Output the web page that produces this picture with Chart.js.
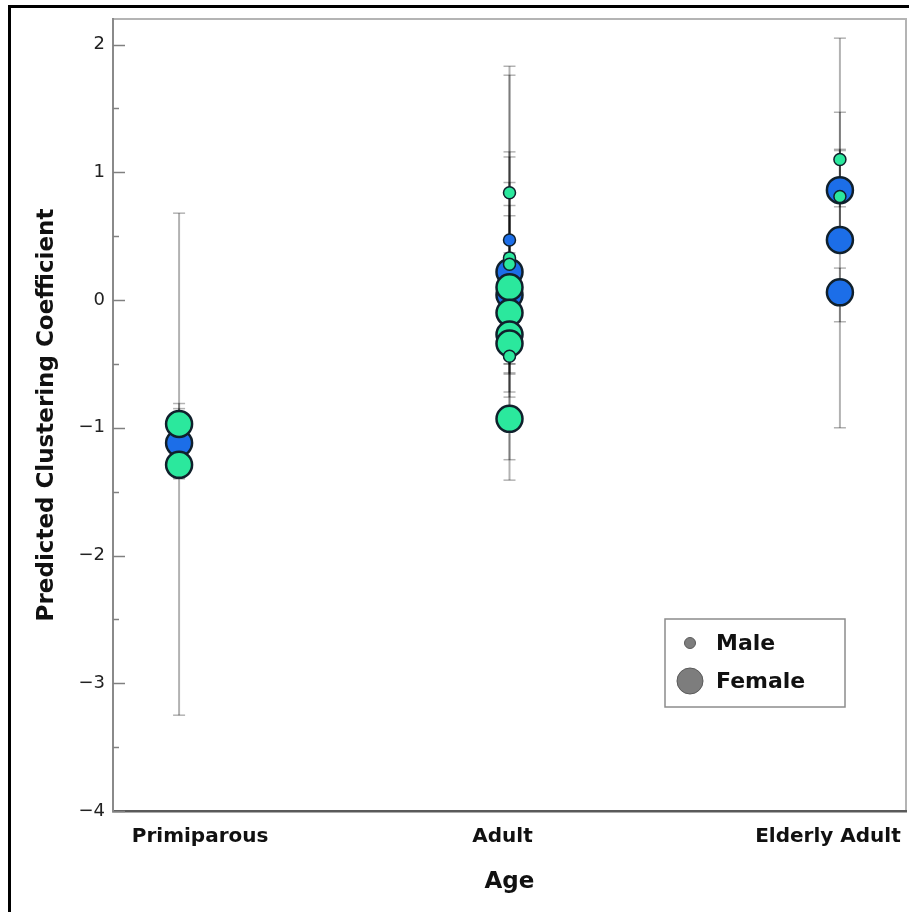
<!DOCTYPE html>
<html>
<head>
<meta charset="utf-8">
<script src="https://cdn.jsdelivr.net/npm/chart.js@4.4.1/dist/chart.umd.min.js"></script>
<style>
  html, body { margin: 0; padding: 0; background: #ffffff; }
  #wrap { position: relative; width: 909px; height: 912px; }
</style>
</head>
<body>
<div id="wrap"><canvas id="chart"></canvas></div>
<script>
// Age groups along the x axis
const ageCategories = ['Primiparous', 'Adult', 'Elderly Adult'];
const yTickLabels = ['\u22124', '\u22123', '\u22122', '\u22121', '0', '1', '2'];

// Predicted clustering coefficient per individual (age index, value)
const blueFemaleAge = [0, 1, 1, 2, 2, 2];
const blueFemaleValue = [-1.12, 0.22, 0.04, 0.86, 0.47, 0.06];
const blueMaleAge = [1];
const blueMaleValue = [0.47];
const greenFemaleAge = [0, 0, 1, 1, 1, 1, 1];
const greenFemaleValue = [-0.97, -1.29, 0.10, -0.10, -0.27, -0.34, -0.93];
const greenMaleAge = [1, 1, 1, 1, 2, 2];
const greenMaleValue = [0.84, 0.33, 0.28, -0.44, 1.10, 0.81];

// Interval bounds around each prediction
const intervalAge = [0, 0, 0,
  1, 1, 1, 1, 1, 1, 1, 1, 1, 1, 1, 1,
  2, 2, 2, 2, 2];
const intervalLow = [-3.25, -1.40, -1.10,
  -0.15, -0.76, -0.50, -0.57, -0.28, -0.58, -0.72, -0.35, -0.45, -0.50, -1.25, -1.41,
  0.73, 0.54, -1.00, 0.45, -0.17];
const intervalHigh = [0.68, -0.81, -0.85,
  1.83, 1.76, 1.16, 1.12, 0.74, 0.66, 0.92, 0.15, -0.09, -0.18, 0.37, -0.45,
  1.47, 1.18, 2.05, 1.17, 0.25];

const legendLabels = ['Male', 'Female'];

const BLUE = '#1c6ee8';
const GREEN = '#2be89d';
const EDGE = '#10202c';
const BAR = 'rgba(0,0,0,0.3)';

function pointsOf(ages, values) {
  return values.map((v, i) => ({ x: ages[i], y: v }));
}

const intervalSets = intervalLow.map((lo, i) => ({
  type: 'line',
  data: [{ x: intervalAge[i], y: lo }, { x: intervalAge[i], y: intervalHigh[i] }],
  borderColor: BAR,
  borderWidth: 2,
  pointStyle: 'line',
  pointRadius: 6,
  pointBorderColor: BAR,
  pointBorderWidth: 1.5,
  fill: false,
  order: 10
}));

function markerSet(ages, values, color, radius, edgeWidth, order) {
  return {
    type: 'scatter',
    data: pointsOf(ages, values),
    pointRadius: radius,
    pointBackgroundColor: color,
    pointBorderColor: EDGE,
    pointBorderWidth: edgeWidth,
    order: order
  };
}

const frameAndLabels = {
  id: 'frameAndLabels',
  beforeDraw(chart) {
    const ctx = chart.ctx;
    const a = chart.chartArea;
    ctx.save();
    ctx.fillStyle = '#ffffff';
    ctx.fillRect(0, 0, chart.width, chart.height);
    // page frame (top and left edges)
    ctx.fillStyle = '#000000';
    ctx.fillRect(8, 5, chart.width - 8, 3);
    ctx.fillRect(8, 5, 3, chart.height - 5);
    // plot frame
    ctx.strokeStyle = '#b4b4b4';
    ctx.lineWidth = 2;
    ctx.strokeRect(a.left, a.top, a.right - a.left, a.bottom - a.top);
    ctx.restore();
  },
  afterDraw(chart) {
    const ctx = chart.ctx;
    const a = chart.chartArea;
    const y = chart.scales.y;
    const x = chart.scales.x;
    ctx.save();
    // inward tick marks on the value axis
    ctx.strokeStyle = '#808080';
    ctx.lineWidth = 1.5;
    y.ticks.forEach(t => {
      const py = Math.round(y.getPixelForValue(t.value)) + 0.5;
      const len = Number.isInteger(t.value) ? 12 : 6;
      ctx.beginPath();
      ctx.moveTo(a.left, py);
      ctx.lineTo(a.left + len, py);
      ctx.stroke();
    });
    // category labels
    ctx.fillStyle = '#111111';
    ctx.font = 'bold 20px "DejaVu Sans"';
    ctx.textAlign = 'center';
    ctx.textBaseline = 'middle';
    const shift = [21, -7, -12];
    ageCategories.forEach((c, i) => {
      ctx.fillText(c, x.getPixelForValue(i) + shift[i], a.bottom + 26);
    });
    // legend box
    const bx = 665, by = 619, bw = 180, bh = 88;
    ctx.fillStyle = '#ffffff';
    ctx.fillRect(bx, by, bw, bh);
    ctx.strokeStyle = '#8c8c8c';
    ctx.lineWidth = 1.5;
    ctx.strokeRect(bx, by, bw, bh);
    const rows = [{ r: 5.5, cy: 643 }, { r: 13, cy: 681 }];
    ctx.font = 'bold 22px "DejaVu Sans"';
    ctx.textAlign = 'left';
    legendLabels.forEach((lab, i) => {
      ctx.beginPath();
      ctx.arc(690, rows[i].cy, rows[i].r, 0, Math.PI * 2);
      ctx.fillStyle = '#7d7d7d';
      ctx.fill();
      ctx.strokeStyle = '#5a5a5a';
      ctx.lineWidth = 1;
      ctx.stroke();
      ctx.fillStyle = '#111111';
      ctx.fillText(lab, 716, rows[i].cy + 1);
    });
    ctx.restore();
  }
};

new Chart(document.getElementById('chart'), {
  data: {
    datasets: [
      ...intervalSets,
      markerSet(blueFemaleAge, blueFemaleValue, BLUE, 13, 2.5, 4),
      markerSet(blueMaleAge, blueMaleValue, BLUE, 6, 1.5, 3),
      markerSet(greenFemaleAge, greenFemaleValue, GREEN, 13, 2.5, 2),
      markerSet(greenMaleAge, greenMaleValue, GREEN, 6, 1.5, 1)
    ]
  },
  options: {
    responsive: true,
    maintainAspectRatio: false,
    animation: false,
    events: [],
    layout: { autoPadding: false, padding: { left: 0, top: 19, right: 3, bottom: 0 } },
    plugins: { legend: { display: false }, tooltip: { enabled: false } },
    scales: {
      x: {
        type: 'linear',
        min: -0.2,
        max: 2.2,
        grid: { display: false, drawTicks: false },
        border: { display: true, color: '#5a5a5a', width: 2.5 },
        ticks: { display: false },
        title: {
          display: true,
          text: 'Age',
          color: '#111111',
          font: { family: 'DejaVu Sans', size: 23, weight: 'bold' },
          padding: { top: 0, bottom: 16 }
        },
        afterFit(s) { s.height = 101; }
      },
      y: {
        type: 'linear',
        min: -4,
        max: 2.2,
        grid: { display: false, drawTicks: false },
        border: { display: true, color: '#8a8a8a', width: 2 },
        afterBuildTicks(s) {
          const t = [];
          for (let v = -4; v <= 2; v += 0.5) t.push({ value: v });
          s.ticks = t;
        },
        ticks: {
          autoSkip: false,
          padding: 8,
          color: '#222222',
          font: { family: 'DejaVu Sans', size: 18 },
          callback(v) {
            return Number.isInteger(v) ? yTickLabels[v + 4] : '';
          }
        },
        title: {
          display: true,
          text: 'Predicted Clustering Coefficient',
          color: '#111111',
          font: { family: 'DejaVu Sans', size: 23, weight: 'bold' },
          padding: { top: 33, bottom: 0 }
        },
        afterFit(s) { s.width = 113; }
      }
    }
  },
  plugins: [frameAndLabels]
});
</script>
</body>
</html>
